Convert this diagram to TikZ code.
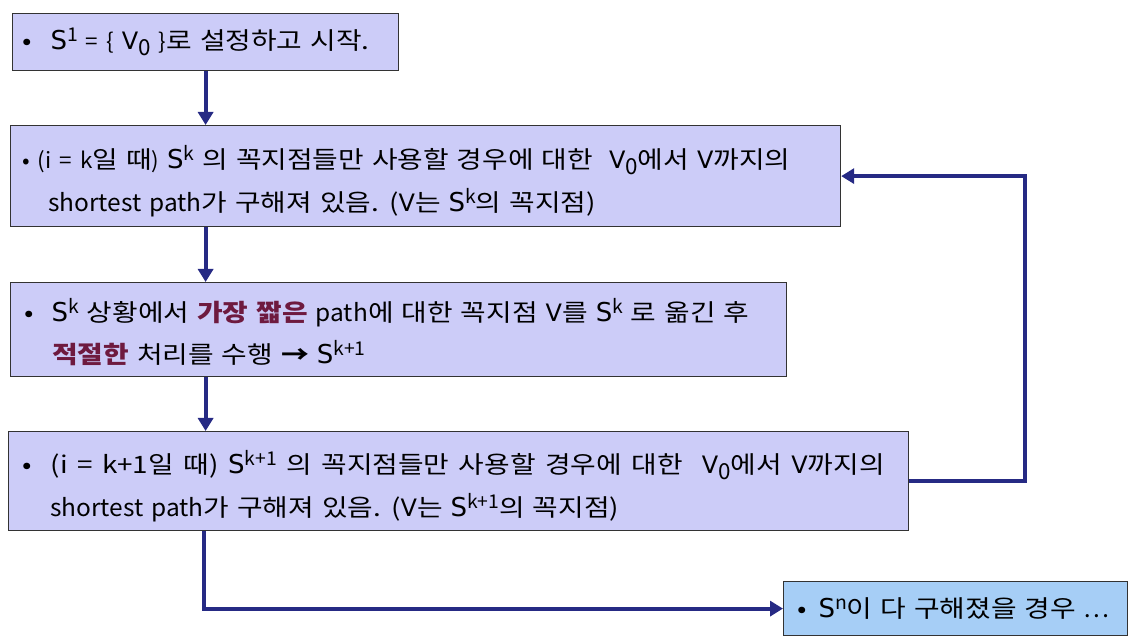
\documentclass[tikz,border=0pt]{standalone}
\usepackage{fontspec}
\setmainfont{Noto Sans CJK KR}[FakeStretch=1.16]
\newfontfamily\latf{Noto Sans CJK KR}[FakeStretch=1.02]
\newfontfamily\vf{DejaVu Sans}
\usetikzlibrary{arrows.meta}
\definecolor{boxfill}{HTML}{CCCCF8}
\definecolor{endfill}{HTML}{A6CEF6}
\definecolor{arrowc}{HTML}{262A84}
\definecolor{emphc}{HTML}{6E1A3F}
\definecolor{edgec}{HTML}{333333}
\newcommand\Sx[1]{{\vf\fontsize{26}{30}\selectfont S}\raisebox{8pt}{{\latf\fontsize{19}{20}\selectfont #1}}}
\newcommand\Vz{{\vf\fontsize{24}{26}\selectfont V}\raisebox{-6pt}{{\latf\fontsize{22}{20}\selectfont 0}}}
\newcommand\Vv{{\vf\fontsize{24}{26}\selectfont V}}
\newcommand\sm[1]{{\latf\fontsize{22}{24}\selectfont #1}}
\newcommand\lat[1]{{\latf #1}}
\newcommand\hl[1]{\textcolor{emphc}{\textbf{#1}}}
\newcommand\setsp{\spaceskip=8pt plus 1pt\relax}
\newcommand\widesp{\spaceskip=9.5pt plus 1pt\relax}
\tikzset{
  box/.style={draw=edgec, line width=1.2pt, fill=boxfill, anchor=north west, inner sep=0pt},
  endbox/.style={box, fill=endfill},
  txt/.style={anchor=base west, inner sep=0pt, font=\fontsize{24}{28}\selectfont\setsp},
  arr/.style={draw=arrowc, line width=4pt, -{Triangle[width=15pt,length=13pt]}}
}
\begin{document}
\begin{tikzpicture}[x=1pt,y=-1pt]
\useasboundingbox (0,0) rectangle (1144,644);
% boxes
\node[box, minimum width=386pt, minimum height=57pt] (b1) at (12,13) {};
\node[box, minimum width=830pt, minimum height=101pt] (b2) at (10,125) {};
\node[box, minimum width=776pt, minimum height=94pt] (b3) at (10,282) {};
\node[box, minimum width=900pt, minimum height=99pt] (b4) at (8,431) {};
\node[endbox, minimum width=344pt, minimum height=54pt] (b5) at (783,581) {};
% texts
\node[txt] (t1) at (22,50) {•\hspace{19pt}\Sx{1} \sm{= \{} \Vz\ \sm{\}}로 설정하고 시작.};
\node[txt] (t2a) at (22,169) {\sm{• (i = k}일 때\sm{)} \Sx{k} 의 꼭지점들만 사용할 경우에 대한\ \ \Vz 에서 \Vv 까지의};
\node[txt] (t2b) at (48,212) {\lat{shortest path}가 구해져 있음. (\Vv 는 \Sx{k}의 꼭지점)};
\node[txt] (t3a) at (24,322) {•\hspace{18pt}\Sx{k} 상황에서 \hl{가장 짧은} \lat{path}에 대한 꼭지점 \Vv 를 \Sx{k} 로 옮긴 후};
\node[txt] (t3b) at (52,364) {\hl{적절한} 처리를 수행 \textbf{→} \Sx{k+1}};
\node[txt] (t4a) at (22,473) {\widesp•\hspace{19pt}(i = k+1일 때) \Sx{k+1} 의 꼭지점들만 사용할 경우에 대한\ \ \Vz 에서 \Vv 까지의};
\node[txt] (t4b) at (50,516) {\lat{shortest path}가 구해져 있음. (\Vv 는 \Sx{k+1}의 꼭지점)};
\node[txt] (t5) at (797,617) {•\hspace{12pt}\Sx{n}이 다 구해졌을 경우 \lat{…}};
% connectors
\coordinate (fb) at (1025,0);
\draw[arr] (b1.south) -- (b1.south |- b2.north);
\draw[arr] (b1.south |- b2.south) -- (b1.south |- b3.north);
\draw[arr] (b1.south |- b3.south) -- (b1.south |- b4.north);
\draw[arr] ([xshift=-2pt]b1.south |- b4.south) |- (b5.west);
\draw[arr] (b4.east) -- (b4.east -| fb) -- (b2.east -| fb) -- (b2.east);
\end{tikzpicture}
\end{document}
